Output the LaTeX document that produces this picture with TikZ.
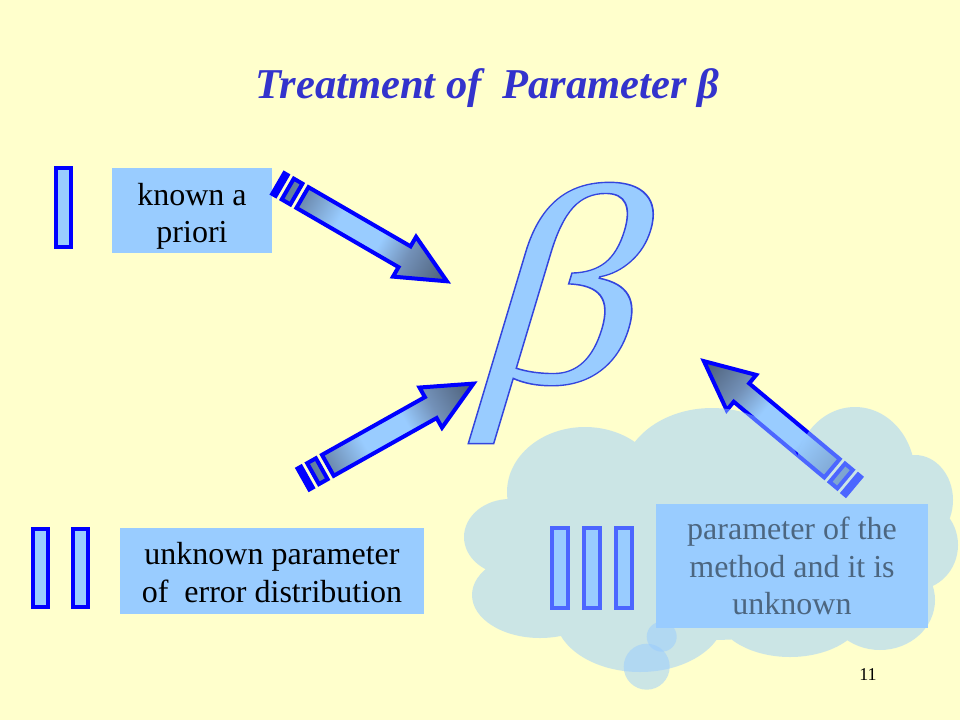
\documentclass[tikz,border=0pt]{standalone}
\usepackage{fontspec}
\setmainfont{Liberation Serif}
\definecolor{bgc}{HTML}{FFFFCC}
\definecolor{boxc}{HTML}{99CCFF}
\definecolor{bluec}{HTML}{0000FF}
\definecolor{titlec}{HTML}{3333CC}
\definecolor{ac1}{HTML}{56708E}
\definecolor{ac2}{HTML}{6E8DB2}
\definecolor{ac3}{HTML}{7391B8}
\definecolor{ac4}{HTML}{4A5C74}
\pgfdeclarehorizontalshading{arrowshade}{100bp}{color(0bp)=(ac1); color(25bp)=(ac1); color(33bp)=(ac2); color(43bp)=(boxc); color(55bp)=(boxc); color(63bp)=(ac3); color(75bp)=(ac4); color(100bp)=(ac4)}
\newcommand\myarrow[3]{%
\begin{scope}[transform canvas={shift={(#1,#2)}, rotate=#3}]
\shadedraw[shading=arrowshade, draw=bluec, line width=4pt, line join=miter]
 (2,-12) rectangle (6,12)
 (13,-12) rectangle (23,12)
 (30,-12) -- (148,-12) -- (148,-23) -- (197,0) -- (148,23) -- (148,12) -- (30,12) -- cycle;
\end{scope}}
\newcommand\outlinedglyph[1]{\special{pdf:literal direct 2 Tr 1.4 w 0.2 0.27 0.87 RG}#1\special{pdf:literal direct 0 Tr}}
\tikzset{
  box/.style={fill=boxc, inner sep=0pt, align=center, font=\fontsize{32}{37.5}\selectfont},
  bar/.style={draw=bluec, fill=boxc, line width=4pt, inner sep=0pt}
}
\begin{document}
\begin{tikzpicture}[x=1pt,y=-1pt]
\useasboundingbox (0,0) rectangle (960,720);
\fill[bgc] (0,0) rectangle (960,720);
% roman numerals
\node[bar, minimum width=15pt, minimum height=79pt] (i1) at (63.5,207.5) {};
\node[bar, minimum width=15pt, minimum height=78pt] (ii1) at (40.3,567.5) {};
\node[bar, minimum width=15pt, minimum height=78pt] (ii2) at (80,567.5) {};
\node[bar, minimum width=16pt, minimum height=80pt] (iii1) at (560,568) {};
\node[bar, minimum width=16pt, minimum height=80pt] (iii2) at (591.7,568) {};
\node[bar, minimum width=16pt, minimum height=80pt] (iii3) at (624,568) {};
% boxes
\node[box, minimum width=160pt, minimum height=85pt, font=\fontsize{32}{37}\selectfont] (kb) at (192,210.5) {\rule{0pt}{33pt}known a\\priori};
\node[box, minimum width=304pt, minimum height=86pt] (ub) at (272,571) {\rule{0pt}{25.3pt}unknown parameter\\of~~error distribution};
\node[box, minimum width=272pt, minimum height=124pt] (pb) at (792,566) {parameter of the\\method and it is\\unknown};
% arrows
\myarrow{276.5}{182.5}{-30.1}
\myarrow{301.7}{480}{29.3}
\myarrow{855}{487.5}{140.1}
% beta
\node[inner sep=0pt, anchor=base, xslant=0.3, xscale=1.1, text=boxc, font=\fontsize{285}{285}\selectfont] (beta) at (546,383) {\outlinedglyph{β}};
% title
\node[anchor=base west, inner sep=0pt, text=titlec, font=\fontsize{42.5}{50}\selectfont\bfseries\itshape] (title) at (255,98.3) {Treatment of~~Parameter β};
\node[anchor=base, inner sep=0pt, font=\fontsize{18}{20}\selectfont] (pg) at (868,680) {11};
% cloud overlay
\fill[boxc, opacity=0.5]
  (585,492) ellipse [x radius=78pt, y radius=65pt]
  (712,478) ellipse [x radius=90pt, y radius=70pt]
  (855,475) ellipse [x radius=60pt, y radius=68pt]
  (915,500) ellipse [x radius=38pt, y radius=45pt]
  (915,545) ellipse [x radius=43pt, y radius=45pt]
  (880,600) ellipse [x radius=55pt, y radius=50pt]
  (790,610) ellipse [x radius=75pt, y radius=47pt]
  (640,615) ellipse [x radius=85pt, y radius=57pt]
  (540,595) ellipse [x radius=68pt, y radius=43pt]
  (510,537) ellipse [x radius=46pt, y radius=38pt]
  (710,545) ellipse [x radius=200pt, y radius=95pt];
\fill[boxc, opacity=0.5] (661.7,636.7) circle [radius=15pt];
\fill[boxc, opacity=0.5] (646.7,666.7) circle [radius=23pt];
\end{tikzpicture}
\end{document}
